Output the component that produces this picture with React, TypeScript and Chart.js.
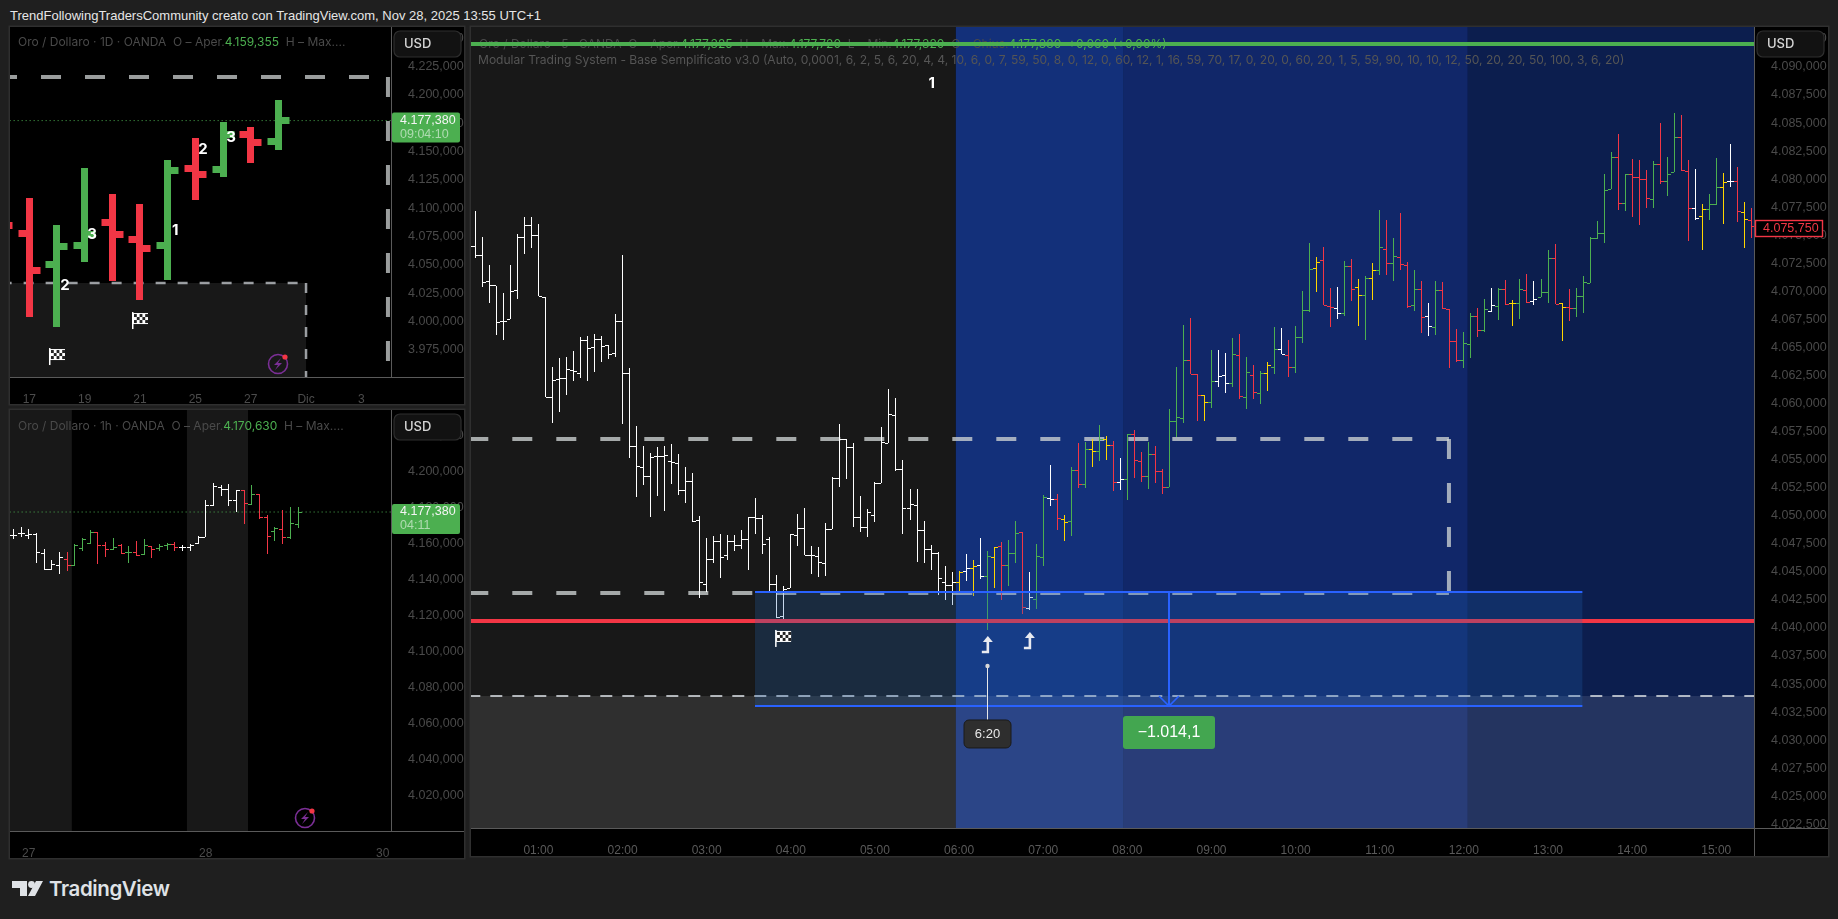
import { useEffect, useRef } from 'react';
import { Chart, registerables } from 'chart.js';
Chart.register(...registerables);

// ---------- 5 minute chart ----------
const mainHighs = [
4074.58,4077.17,4074.82,4072.33,4070.51,4069.83,4072.33,4075.09,4076.60,4076.60,
4075.98,4069.47,4063.23,4064.04,4064.13,4064.66,4065.91,4066.00,4066.18,4066.00,
4065.19,4067.96,4073.22,4063.15,4057.98,4056.19,4055.57,4056.10,4056.19,4056.37,
4055.48,4054.32,4053.79,4049.95,4047.99,4048.17,4048.35,4048.26,4048.26,4048.71,
4049.86,4051.56,4050.04,4048.08,4044.70,4043.72,4048.35,4050.13,4050.67,4047.28,
4047.19,4049.33,4053.43,4058.15,4056.82,4056.46,4051.74,4050.58,4052.98,4057.89,
4061.27,4060.47,4054.95,4052.36,4052.36,4049.51,4047.37,4046.75,4045.50,4044.96,
4045.05,4046.59,4046.03,4047.99,4046.83,4047.19,4047.64,4047.82,4049.51,4048.53,
4044.96,4047.46,4051.83,4054.50,4051.92,4050.04,4054.32,4056.46,4056.58,4056.82,
4058.07,4057.09,4056.64,4055.12,4057.26,4057.62,4055.66,4056.55,4056.19,4054.14,
4059.49,4063.23,4067.00,4067.63,4062.61,4060.74,4064.75,4064.75,4064.48,4065.82,
4066.20,4064.15,4063.41,4062.88,4063.71,4066.80,4066.71,4065.64,4066.89,4070.01,
4074.29,4073.04,4073.93,4070.28,4070.37,4072.68,4072.86,4071.08,4071.35,4072.50,
4077.23,4076.34,4074.73,4076.96,4072.59,4071.88,4070.90,4068.94,4070.90,4070.81,
4068.40,4066.62,4066.36,4068.05,4068.49,4069.30,4070.28,4070.28,4070.99,4069.21,
4071.08,4071.52,4070.90,4071.08,4073.66,4074.20,4068.94,4070.19,4070.28,4071.35,
4074.82,4076.25,4080.44,4082.40,4084.00,4080.44,4081.77,4081.68,4080.79,4081.60,
4084.98,4081.95,4085.87,4085.70,4081.68,4080.88,4077.76,4078.65,4081.86,4080.53,
4083.11,4081.06,4077.94,4077.41];
const mainLows = [
4072.62,4073.00,4070.42,4068.99,4066.09,4065.64,4067.51,4069.35,4073.36,4073.89,
4069.56,4060.56,4058.24,4059.22,4060.79,4062.04,4062.25,4061.99,4062.84,4063.73,
4063.95,4064.13,4058.15,4055.12,4051.65,4052.72,4049.86,4051.74,4050.46,4052.81,
4051.83,4051.11,4049.42,4042.64,4043.23,4045.77,4044.43,4046.03,4046.83,4047.01,
4045.14,4048.35,4046.57,4043.23,4040.86,4040.65,4043.54,4047.28,4046.48,4044.79,
4044.57,4044.61,4048.80,4052.54,4053.31,4048.97,4048.53,4048.08,4049.42,4052.90,
4056.46,4053.96,4048.35,4049.60,4045.85,4045.77,4045.14,4042.91,4042.52,4042.05,
4043.23,4044.21,4042.88,4044.37,4039.85,4043.56,4042.52,4043.72,4045.79,4041.28,
4041.63,4041.72,4045.52,4050.90,4048.73,4047.78,4048.23,4052.45,4052.50,4054.38,
4054.91,4055.00,4052.24,4052.33,4051.44,4053.40,4053.04,4052.42,4052.95,4051.97,
4052.54,4057.00,4058.24,4062.61,4058.45,4058.45,4059.61,4061.48,4060.94,4061.48,
4060.41,4059.52,4060.41,4059.96,4061.12,4062.66,4064.39,4062.40,4062.75,4065.37,
4068.19,4069.97,4068.76,4066.85,4067.57,4067.83,4069.17,4066.94,4065.69,4069.26,
4071.49,4071.49,4070.95,4071.93,4068.49,4068.28,4066.27,4066.00,4066.09,4068.46,
4063.20,4063.73,4063.20,4064.09,4065.96,4066.41,4068.14,4067.48,4068.76,4066.94,
4067.57,4068.94,4068.79,4069.47,4068.94,4068.85,4065.55,4067.39,4067.74,4068.05,
4070.72,4074.64,4074.29,4079.10,4077.23,4077.14,4076.60,4075.89,4077.41,4077.41,
4079.55,4078.48,4080.61,4080.70,4074.46,4076.34,4073.66,4076.34,4077.67,4075.98,
4079.28,4076.16,4073.84,4074.73];
const mainOpens = [
4073.24,4073.98,4073.18,4070.86,4070.51,4067.30,4067.51,4070.10,4074.82,4075.89,
4075.00,4069.47,4060.56,4062.17,4062.25,4062.97,4062.70,4065.64,4065.02,4065.73,
4065.19,4064.48,4067.33,4062.70,4056.19,4054.32,4053.52,4055.30,4055.30,4054.86,
4054.68,4052.27,4053.07,4049.60,4043.89,4046.12,4047.72,4046.48,4047.72,4047.37,
4047.90,4049.86,4049.78,4047.90,4043.89,4041.04,4043.54,4048.26,4048.88,4046.48,
4046.39,4045.76,4048.80,4053.34,4056.82,4056.10,4049.86,4048.97,4050.04,4052.90,
4056.46,4058.96,4054.14,4050.67,4050.93,4048.71,4047.01,4046.66,4044.07,4043.80,
4044.07,4045.05,4045.32,4045.59,4044.61,4046.30,4047.28,4045.59,4046.66,4048.53,
4041.75,4042.56,4046.30,4051.56,4051.47,4049.69,4049.51,4054.05,4052.81,4055.93,
4055.75,4056.82,4056.28,4052.98,4053.25,4057.26,4054.86,4053.52,4055.48,4053.96,
4052.54,4058.42,4058.69,4063.86,4062.61,4060.74,4060.11,4061.99,4062.52,4061.81,
4064.30,4060.56,4062.52,4060.92,4062.70,4063.23,4064.84,4064.30,4063.23,4065.91,
4068.32,4072.06,4072.77,4068.67,4068.49,4068.05,4072.24,4070.37,4069.65,4071.17,
4071.88,4073.75,4072.50,4073.04,4072.33,4068.76,4070.19,4067.78,4066.80,4070.10,
4068.40,4065.55,4063.86,4065.28,4067.78,4066.53,4068.25,4068.67,4070.19,4068.94,
4068.94,4070.10,4069.12,4069.47,4069.92,4072.95,4068.94,4068.58,4068.49,4069.56,
4070.72,4074.73,4075.18,4079.10,4081.95,4077.85,4080.44,4080.17,4079.99,4078.21,
4081.33,4079.81,4080.61,4083.73,4080.70,4077.41,4076.69,4077.32,4077.76,4079.28,
4079.81,4079.81,4077.05,4076.33];
const mainCloses = [
4073.98,4073.18,4070.81,4070.51,4067.21,4067.33,4070.01,4074.82,4075.89,4075.00,
4069.56,4060.56,4062.08,4062.25,4063.06,4062.88,4065.64,4064.95,4065.73,4065.11,
4064.39,4067.33,4062.70,4056.19,4054.41,4053.52,4055.21,4055.30,4055.39,4054.77,
4052.27,4053.07,4049.51,4044.07,4046.12,4047.72,4046.30,4047.72,4047.37,4047.90,
4049.86,4049.78,4047.46,4043.89,4040.95,4043.45,4048.35,4048.88,4046.48,4046.48,
4045.85,4048.80,4053.34,4056.82,4056.10,4049.86,4048.97,4050.31,4052.90,4056.55,
4059.05,4054.14,4050.67,4051.02,4048.71,4047.01,4046.66,4044.43,4043.80,4044.07,
4044.96,4045.32,4045.50,4044.61,4046.39,4047.19,4045.59,4046.66,4048.44,4041.84,
4042.73,4046.39,4051.65,4051.47,4049.78,4049.42,4054.05,4052.81,4055.93,4055.75,
4056.82,4056.28,4052.98,4053.25,4057.26,4054.95,4053.52,4055.48,4053.96,4052.54,
4058.42,4058.78,4063.86,4062.61,4060.74,4060.11,4061.99,4062.43,4061.81,4064.39,
4060.65,4062.79,4061.01,4062.70,4063.41,4064.84,4064.39,4063.23,4065.91,4068.32,
4071.97,4072.59,4068.76,4068.58,4068.05,4072.24,4070.19,4069.65,4071.17,4071.88,
4073.93,4072.50,4073.13,4072.41,4068.67,4070.19,4067.69,4066.89,4070.10,4068.49,
4065.55,4063.86,4065.37,4067.78,4066.53,4068.40,4068.76,4070.19,4068.85,4068.94,
4070.19,4069.03,4069.30,4069.92,4072.95,4068.85,4068.58,4068.49,4069.56,4070.81,
4074.73,4075.18,4079.01,4081.95,4077.85,4080.44,4080.17,4079.99,4078.30,4081.33,
4079.81,4080.44,4083.73,4080.79,4077.41,4076.51,4077.32,4077.76,4079.28,4079.72,
4079.81,4077.14,4076.43,4075.75];
const mainColorCodes =
  'wwwwwwwwwwwwwwwwwwwwwwwwwwwwwwwwwwwwwwwwwwwwwwwwwwwwwwwwwwwwwwwwwwwwww' +
  'ywywgyrggrwggwrygrgygyrwgrrgrrgggrrygwwgrgrgygwrgggyrrwgrygygrgrrgrwgr' +
  'rrggrgwgrygrwggryrggggggrgrrrgrggrrwyggywryr';
const mainPriceTicks = [4022.5,4025,4027.5,4030,4032.5,4035,4037.5,4040,4042.5,4045,4047.5,4050,4052.5,4055,4057.5,4060,4062.5,4065,4067.5,4070,4072.5,4075,4077.5,4080,4082.5,4085,4087.5,4090,4092.5];
const mainTimeIdx = [10,22,34,46,58,70,82,94,106,118,130,142,154,166,178];
const mainTimeLabels = ['01:00','02:00','03:00','04:00','05:00','06:00','07:00','08:00','09:00','10:00','11:00','12:00','13:00','14:00','15:00'];

// ---------- daily chart ----------
const dayHighs = [4120,4109.0,4085.2,4135.5,4112.5,4103.7,4142.6,4162.0,4176.1,4171.7,4195.6];
const dayLows = [4060,4003.9,3995.1,4052.5,4035.7,4018.9,4036.6,4107.2,4127.6,4139.9,4151.4];
const dayOpens = [4090,4077.8,4050.7,4067.2,4087.5,4072.5,4067.2,4135.2,4134.3,4165.3,4159.355];
const dayCloses = [4084.9,4045.1,4066.3,4076.9,4076.9,4064.5,4133.5,4129.9,4164.7,4158.2,4177.38];
const dayColorCodes = 'rrggrrgrgrg';
const dayPriceTicks = [3975,4000,4025,4050,4075,4100,4125,4150,4175,4200,4225,4250];
const dayTimeIdx = [1,3,5,7,9,11,13];
const dayTimeLabels = ['17','19','21','25','27','Dic','3'];

// ---------- hourly chart ----------
const hourHighs = [4167.78,4167.78,4169.07,4167.78,4165.56,4156.67,4150.56,4155.19,4155.19,4159.44,4162.96,4167.22,4166.11,4160.74,4162.96,4159.63,4158.70,4161.30,4162.41,4158.70,4159.44,4160.37,4160.74,4158.89,4159.63,4164.07,4184.07,4193.33,4192.59,4192.96,4189.63,4189.44,4192.41,4187.59,4175.56,4169.07,4178.70,4180.19,4180.19];
const hourLows = [4162.41,4162.59,4163.33,4162.22,4149.26,4145.19,4145.00,4143.15,4144.81,4147.59,4155.93,4159.81,4148.70,4152.59,4156.30,4154.26,4149.26,4152.96,4153.70,4152.04,4155.56,4156.48,4155.74,4155.93,4155.93,4159.81,4163.33,4180.93,4186.48,4180.74,4177.22,4170.74,4181.30,4173.33,4154.26,4161.30,4159.63,4162.59,4168.52];
const hourOpens = [4163.33,4164.07,4165.18,4164.44,4165.00,4154.26,4145.37,4147.78,4151.11,4147.78,4157.22,4160.00,4165.93,4158.89,4156.67,4158.89,4154.63,4154.81,4153.89,4158.33,4156.85,4158.52,4159.44,4157.41,4157.78,4160.00,4163.33,4181.11,4191.11,4190.00,4183.52,4189.26,4181.67,4187.22,4174.44,4166.48,4167.78,4163.33,4170.63];
const hourCloses = [4164.26,4164.07,4165.18,4164.81,4154.63,4145.56,4147.96,4151.85,4147.59,4158.70,4161.85,4165.93,4158.89,4156.67,4157.41,4154.44,4155.00,4153.33,4158.52,4156.48,4157.96,4159.44,4157.78,4157.41,4158.89,4163.33,4181.11,4191.30,4190.00,4183.52,4189.26,4182.22,4187.22,4174.26,4163.89,4168.33,4163.33,4170.93,4177.38];
const hourColorCodes = 'wwwwwwwwrgggrrgrgrgrggrwwwwwwwwrgrrgrgg';
const hourPriceTicks = [4020,4040,4060,4080,4100,4120,4140,4160,4180,4200,4220];
const hourTimeIdx = [3,26,49];
const hourTimeLabels = ['27','28','30'];

// ---------- levels ----------
const lastPrice = 4177.38;
const mainLast = 4075.75;
const upperLevel = 4056.84;
const lowerLevel = 4043.12;
const stopLevel = 4040.62;
const topLevel = 4092.05;
const supportLevel = 4033.94;
const boxTop = 4043.21;
const boxBottom = 4033.05;
const dayUpperLevel = 4216;

const GREEN = '#4caf50', RED = '#f23645', YELLOW = '#ffd600', WHITE = '#ffffff';
const colorOf: Record<string, string> = { w: WHITE, g: GREEN, r: RED, y: YELLOW };
const GREYTXT = '#4a4a4a';
const FONT = 'Inter, "Liberation Sans", sans-serif';
const AXISFONT = '"Liberation Sans", Arial, sans-serif';

const fmtPrice = (v: number) => {
  const [i, d] = v.toFixed(3).split('.');
  return i[0] + '.' + i.slice(1) + ',' + d;
};

function line(points: { x: number; y: number }[], color: string, width: number, dash: number[], order: number) {
  return {
    type: 'line', data: points, borderColor: color, borderWidth: width, borderDash: dash,
    pointRadius: 0, tension: 0, fill: false, order, borderCapStyle: 'butt',
  };
}
function bars(h: number[], l: number[], codes: string, order: number) {
  return {
    type: 'bar', order, grouped: false, barThickness: 1,
    data: h.map((v, i) => ({ x: i, y: [l[i], v] })),
    backgroundColor: h.map((_, i) => colorOf[codes[i]]),
  };
}

function text(ctx: any, s: string, x: number, y: number, font: string, color: string, align = 'left') {
  ctx.font = font; ctx.fillStyle = color; ctx.textAlign = align; ctx.textBaseline = 'middle';
  ctx.fillText(s, x, y);
}
function segs(ctx: any, parts: [string, string][], x: number, y: number, font: string) {
  ctx.font = font; ctx.textBaseline = 'middle'; ctx.textAlign = 'left';
  let cx = x;
  for (const [s, c] of parts) { ctx.fillStyle = c; ctx.fillText(s, cx, y); cx += ctx.measureText(s).width; }
}
function flag(ctx: any, cx: number, cy: number) {
  const x0 = cx - 7, y0 = cy - 8;
  ctx.fillStyle = '#fff';
  ctx.fillRect(x0 - 1, y0, 1.5, 17);
  ctx.fillRect(x0, y0 + 1, 15, 11);
  ctx.fillStyle = '#222';
  for (let r = 0; r < 3; r++) for (let c = 0; c < 5; c++) if ((r + c) % 2 === 0) ctx.fillRect(x0 + 1 + c * 2.8, y0 + 2 + r * 3, 2.8, 3);
}
function bolt(ctx: any, cx: number, cy: number) {
  ctx.beginPath(); ctx.arc(cx, cy, 9.5, 0, Math.PI * 2); ctx.strokeStyle = '#7b2f96'; ctx.lineWidth = 1.6; ctx.stroke();
  ctx.beginPath();
  ctx.moveTo(cx + 3, cy - 6); ctx.lineTo(cx - 4, cy + 1); ctx.lineTo(cx, cy + 1); ctx.lineTo(cx - 3, cy + 6);
  ctx.lineTo(cx + 4, cy - 1); ctx.lineTo(cx, cy - 1); ctx.closePath();
  ctx.fillStyle = '#7b2f96'; ctx.fill();
  ctx.beginPath(); ctx.arc(cx + 7, cy - 7, 2.6, 0, Math.PI * 2); ctx.fillStyle = RED; ctx.fill();
}
function rrect(ctx: any, x: number, y: number, w: number, h: number, r: number) {
  ctx.beginPath(); ctx.roundRect(x, y, w, h, r);
}
function usd(ctx: any, x: number, y: number) {
  rrect(ctx, x, y, 67, 26, 6); ctx.fillStyle = '#121212'; ctx.fill(); ctx.strokeStyle = '#2e2e2e'; ctx.lineWidth = 1.2; ctx.stroke();
  text(ctx, 'USD', x + 10, y + 13.5, '500 13px ' + FONT, '#d6d6d6');
}
function greenTag(ctx: any, x: number, y: number, a: string, b: string) {
  rrect(ctx, x, y, 68, 30, 2); ctx.fillStyle = '#4caf50'; ctx.fill();
  text(ctx, a, x + 8, y + 8, '12.5px ' + AXISFONT, '#f4f4f4');
  text(ctx, b, x + 8, y + 22, '12.5px ' + AXISFONT, 'rgba(255,255,255,0.55)');
}
function upArrow(ctx: any, x: number, y: number) {
  ctx.strokeStyle = '#e8eaf0'; ctx.fillStyle = '#e8eaf0'; ctx.lineWidth = 2.6;
  ctx.beginPath(); ctx.moveTo(x, y - 5); ctx.lineTo(x, y + 7); ctx.lineTo(x - 6, y + 7); ctx.stroke();
  ctx.beginPath(); ctx.moveTo(x - 5, y - 3); ctx.lineTo(x, y - 9); ctx.lineTo(x + 5, y - 3); ctx.closePath(); ctx.fill();
}

function makeOptions(cfg: any) {
  return {
    responsive: false, animation: false, events: [],
    layout: { padding: 0 },
    plugins: { legend: { display: false }, tooltip: { enabled: false }, title: { display: false } },
    scales: {
      x: {
        type: 'linear', min: cfg.xMin, max: cfg.xMax, offset: false,
        grid: { display: false }, border: { color: '#5a5a5a', width: 1 },
        afterBuildTicks: (s: any) => { s.ticks = cfg.xTicks.map((v: number) => ({ value: v })); },
        afterFit: (s: any) => { s.height = cfg.stripH; s.paddingLeft = 0; s.paddingRight = 0; s.paddingTop = 0; s.paddingBottom = 0; },
        ticks: {
          autoSkip: false, maxRotation: 0, minRotation: 0, padding: 7, color: cfg.timeColor,
          font: { size: 12, family: AXISFONT },
          callback: (v: number) => { const k = cfg.xTicks.indexOf(v); return k < 0 ? '' : cfg.xLabels[k]; },
        },
      },
      y: {
        type: 'linear', position: 'right', min: cfg.yMin, max: cfg.yMax,
        grid: { display: false }, border: { color: '#5a5a5a', width: 1 },
        afterBuildTicks: (s: any) => { s.ticks = cfg.yTicks.map((v: number) => ({ value: v })); },
        afterFit: (s: any) => { s.width = cfg.axisW; s.paddingLeft = 0; s.paddingRight = 0; s.paddingTop = 0; s.paddingBottom = 0; },
        ticks: {
          autoSkip: false, padding: 9, crossAlign: 'near', color: GREYTXT,
          font: { size: 12.5, family: AXISFONT },
          callback: (v: number) => fmtPrice(v),
        },
      },
    },
  };
}

function panelPlugin(cfg: any) {
  const withClip = (chart: any, fn: (ctx: any) => void) => {
    const { ctx, chartArea: a } = chart;
    ctx.save(); ctx.beginPath(); ctx.rect(a.left, a.top, a.right - a.left, a.bottom - a.top); ctx.clip();
    fn(ctx); ctx.restore();
  };
  return {
    id: 'panel',
    beforeDatasetsDraw(chart: any) {
      withClip(chart, (ctx) => cfg.under(ctx, chart, chart.scales.x, chart.scales.y, chart.chartArea));
    },
    beforeDatasetDraw(chart: any, args: any) {
      if (args.meta.type !== 'bar') return;
      const ys = chart.scales.y;
      withClip(chart, (ctx) => {
        const { wick, tick, tickH } = cfg.style;
        args.meta.data.forEach((el: any, i: number) => {
          const xr = Math.round(el.x - wick / 2);
          const top = Math.round(ys.getPixelForValue(cfg.highs[i]));
          const bot = Math.round(ys.getPixelForValue(cfg.lows[i]));
          ctx.fillStyle = colorOf[cfg.codes[i]];
          ctx.fillRect(xr, top, wick, Math.max(1, bot - top));
          const oy = Math.round(ys.getPixelForValue(cfg.opens[i]) - tickH / 2);
          const cy = Math.round(ys.getPixelForValue(cfg.closes[i]) - tickH / 2);
          ctx.fillRect(xr - tick, oy, tick, tickH);
          ctx.fillRect(xr + wick, cy, tick, tickH);
        });
      });
      return false;
    },
    afterDatasetsDraw(chart: any) {
      withClip(chart, (ctx) => cfg.over(ctx, chart, chart.scales.x, chart.scales.y, chart.chartArea));
    },
    afterDraw(chart: any) {
      cfg.overlay(chart.ctx, chart, chart.scales.x, chart.scales.y, chart.chartArea);
    },
  };
}

function Panel({ cfg }: { cfg: any }) {
  const ref = useRef<HTMLCanvasElement | null>(null);
  useEffect(() => {
    const chart = new Chart(ref.current as any, {
      type: 'bar',
      data: { datasets: cfg.datasets },
      options: makeOptions(cfg) as any,
      plugins: [panelPlugin(cfg)],
    } as any);
    return () => chart.destroy();
  }, []);
  return (
    <canvas
      ref={ref}
      width={cfg.w}
      height={cfg.h}
      style={{ position: 'absolute', left: cfg.left, top: cfg.top, width: cfg.w, height: cfg.h, background: '#000', boxShadow: '0 0 0 1.5px #2f2f2f' }}
    />
  );
}

// ---------- panel configs ----------
const mainX0 = 0.385, mainX1 = 183.38;
const mainCfg = {
  left: 471, top: 27, w: 1357, h: 829, axisW: 74, stripH: 28, timeColor: '#5a5a5a',
  xMin: mainX0, xMax: mainX1, yMin: 4022.17, yMax: 4093.565,
  xTicks: mainTimeIdx, xLabels: mainTimeLabels, yTicks: mainPriceTicks,
  highs: mainHighs, lows: mainLows, opens: mainOpens, closes: mainCloses, codes: mainColorCodes,
  style: { wick: 1, tick: 3, tickH: 1 },
  datasets: [
    line([{ x: 0, y: topLevel }, { x: 184, y: topLevel }], GREEN, 4, [], 0),
    line([{ x: 0, y: stopLevel }, { x: 184, y: stopLevel }], RED, 4, [], 0),
    bars(mainHighs, mainLows, mainColorCodes, 1),
    line([{ x: 0, y: upperLevel }, { x: 139.87, y: upperLevel }], 'rgba(205,210,210,0.78)', 4, [20, 24], 2),
    line([{ x: 0, y: lowerLevel }, { x: 139.87, y: lowerLevel }], 'rgba(205,210,210,0.78)', 4, [20, 24], 2),
    line([{ x: 139.87, y: upperLevel }, { x: 139.87, y: lowerLevel }], 'rgba(205,210,210,0.78)', 4, [20, 24], 2),
    line([{ x: 0, y: supportLevel }, { x: 184, y: supportLevel }], 'rgba(215,220,225,0.8)', 2, [12, 10], 2),
  ],
  under(ctx: any, _c: any, xs: any, ys: any, a: any) {
    const sessions: [number, number, string][] = [
      [mainX0, 69.53, '#181818'], [69.53, 93.5, '#13307a'], [93.5, 142.57, '#112769'], [142.57, mainX1, '#0c1e4e'],
    ];
    for (const [from, to, c] of sessions) {
      const l = xs.getPixelForValue(from), r = xs.getPixelForValue(to);
      ctx.fillStyle = c; ctx.fillRect(l, a.top, r - l, a.bottom - a.top);
    }
    const ly = ys.getPixelForValue(supportLevel);
    ctx.fillStyle = 'rgba(255,255,255,0.1)'; ctx.fillRect(a.left, ly, a.right - a.left, a.bottom - ly);
    segs(ctx, [
      ['Oro / Dollaro · 5 · OANDA  O – Aper.', GREYTXT], ['4.177,325', GREEN], ['  H – Max.', GREYTXT], ['4.177,720', GREEN],
      ['  L – Min.', GREYTXT], ['4.177,320', GREEN], ['  C – Chius.', GREYTXT], ['4.177,380', GREEN], ['  +0,060 (+0,00%)', GREEN],
    ], 8, 17, '12.05px ' + FONT);
    segs(ctx, [['Modular Trading System - Base Semplificato v3.0 (Auto, 0,0001, 6, 2, 5, 6, 20, 4, 4, 10, 6, 0, 7, 59, 50, 8, 0, 12, 0, 60, 12, 1, 16, 59, 70, 17, 0, 20, 0, 60, 20, 1, 5, 59, 90, 10, 10, 12, 50, 20, 20, 50, 100, 3, 6, 20)', '#555555']], 7, 33, '12.05px ' + FONT);
  },
  over(ctx: any, _c: any, xs: any, ys: any) {
    const bl = xs.getPixelForValue(40.89), br = xs.getPixelForValue(158.9);
    const bt = Math.round(ys.getPixelForValue(boxTop)), bb = Math.round(ys.getPixelForValue(boxBottom));
    ctx.fillStyle = 'rgba(30,100,180,0.25)'; ctx.fillRect(bl, bt, br - bl, bb - bt);
    ctx.fillStyle = '#2962ff';
    ctx.fillRect(bl, bt - 1, br - bl, 2); ctx.fillRect(bl, bb - 1, br - bl, 2);
    const ax = Math.round(xs.getPixelForValue(99.9));
    ctx.fillRect(ax - 1, bt, 2, bb - bt);
    ctx.strokeStyle = '#2962ff'; ctx.lineWidth = 1.6;
    ctx.beginPath(); ctx.moveTo(ax - 10, bb - 10); ctx.lineTo(ax, bb); ctx.lineTo(ax + 10, bb - 10); ctx.stroke();

    flag(ctx, xs.getPixelForValue(44.9), ys.getPixelForValue(4039.11));
    upArrow(ctx, xs.getPixelForValue(74.1), ys.getPixelForValue(4038.48));
    upArrow(ctx, xs.getPixelForValue(80.1), ys.getPixelForValue(4038.84));
    text(ctx, '1', xs.getPixelForValue(66.1), ys.getPixelForValue(4088.5), '700 15px ' + FONT, '#fff', 'center');

    const px = Math.round(xs.getPixelForValue(74));
    const py = ys.getPixelForValue(4036.61), ty = ys.getPixelForValue(4030.55);
    ctx.fillStyle = '#e8e8e8'; ctx.fillRect(px, py, 1, ty - py);
    ctx.beginPath(); ctx.arc(px + 0.5, py, 2.2, 0, Math.PI * 2); ctx.fillStyle = '#d8d8d8'; ctx.fill();
    rrect(ctx, px - 23, ty - 14, 47, 28, 5); ctx.fillStyle = '#2e2e2e'; ctx.fill(); ctx.strokeStyle = '#1a1a1a'; ctx.lineWidth = 1; ctx.stroke();
    text(ctx, '6:20', px + 0.5, ty + 0.5, '13px ' + AXISFONT, '#e8e8e8', 'center');

    const gy = ys.getPixelForValue(4030.68);
    rrect(ctx, ax - 46, gy - 16.5, 92, 33, 3); ctx.fillStyle = '#43a650'; ctx.fill();
    text(ctx, '−1.014,1', ax, gy + 0.5, '16px ' + AXISFONT, '#ffffff', 'center');
  },
  overlay(ctx: any, _c: any, _x: any, _y: any, a: any) {
    ctx.fillStyle = '#000'; ctx.fillRect(a.right + 1, a.bottom, 80, 28);
    ctx.fillStyle = '#5a5a5a'; ctx.fillRect(a.left, a.bottom, a.right - a.left + 80, 1);
    ctx.fillRect(a.right, a.bottom, 1, 28);
    usd(ctx, a.right + 3, 4);
    const rr = 193;
    ctx.fillStyle = '#000'; ctx.fillRect(a.right + 1, rr, 68, 17);
    ctx.strokeStyle = RED; ctx.lineWidth = 1.4; ctx.strokeRect(a.right + 1.5, rr + 0.5, 67, 16);
    text(ctx, fmtPrice(mainLast), a.right + 9, rr + 9, '12.5px ' + AXISFONT, RED);
  },
};

const dayX0 = 0.3025, dayX1 = 14.07;
const dayCfg = {
  left: 10, top: 27, w: 454, h: 377, axisW: 73, stripH: 27, timeColor: '#4c4c4c',
  xMin: dayX0, xMax: dayX1, yMin: 3950.88, yMax: 4260.07,
  xTicks: dayTimeIdx, xLabels: dayTimeLabels, yTicks: dayPriceTicks,
  highs: dayHighs, lows: dayLows, opens: dayOpens, closes: dayCloses, codes: dayColorCodes,
  style: { wick: 7, tick: 7.5, tickH: 7 },
  datasets: [
    bars(dayHighs, dayLows, dayColorCodes, 1),
    line([{ x: -0.167, y: dayUpperLevel }, { x: 13.96, y: dayUpperLevel }], 'rgba(205,210,210,0.75)', 4, [20, 24], 2),
    line([{ x: 13.96, y: dayUpperLevel }, { x: 13.96, y: 3950 }], 'rgba(205,210,210,0.75)', 4, [20, 24], 2),
    line([{ x: 0, y: supportLevel }, { x: 11, y: supportLevel }], 'rgba(215,220,225,0.7)', 2.5, [10, 12], 2),
    line([{ x: 11, y: supportLevel }, { x: 11, y: 3950 }], 'rgba(215,220,225,0.7)', 2.5, [10, 12], 2),
    line([{ x: 0, y: lastPrice }, { x: 15, y: lastPrice }], GREEN, 1, [1, 3], 3),
  ],
  under(ctx: any, _c: any, xs: any, ys: any, a: any) {
    const r = xs.getPixelForValue(11), t = ys.getPixelForValue(supportLevel);
    ctx.fillStyle = '#181818'; ctx.fillRect(a.left, t, r - a.left, a.bottom - t);
    segs(ctx, [['Oro / Dollaro · 1D · OANDA  O – Aper.', GREYTXT], ['4.159,355', GREEN], ['  H – Max....', GREYTXT]], 8, 15, '12px ' + FONT);
  },
  over(ctx: any, _c: any, xs: any, ys: any) {
    const f = '700 15px ' + FONT;
    const nums: [string, number, number][] = [['2', 2.29, 4031.3], ['3', 3.27, 4077.2], ['1', 6.27, 4080.7], ['2', 7.28, 4152.3], ['3', 8.29, 4162.9]];
    for (const [s, i, p] of nums) text(ctx, s, xs.getPixelForValue(i), ys.getPixelForValue(p), f, '#fff', 'center');
    flag(ctx, xs.getPixelForValue(2), ys.getPixelForValue(3969.4));
    flag(ctx, xs.getPixelForValue(5), ys.getPixelForValue(4001.2));
    bolt(ctx, 268, 337);
  },
  overlay(ctx: any, _c: any, _x: any, ys: any, a: any) {
    ctx.fillStyle = '#5a5a5a'; ctx.fillRect(a.left, a.bottom, 454, 1);
    usd(ctx, a.right + 3, 4);
    const ly = ys.getPixelForValue(lastPrice);
    greenTag(ctx, a.right + 1, ly - 8, fmtPrice(lastPrice), '09:04:10');
  },
};

const hourX0 = 0.567, hourX1 = 50.08;
const hourCfg = {
  left: 10, top: 410, w: 454, h: 448, axisW: 73, stripH: 27, timeColor: '#4c4c4c',
  xMin: hourX0, xMax: hourX1, yMin: 4000.17, yMax: 4234.05,
  xTicks: hourTimeIdx, xLabels: hourTimeLabels, yTicks: hourPriceTicks,
  highs: hourHighs, lows: hourLows, opens: hourOpens, closes: hourCloses, codes: hourColorCodes,
  style: { wick: 1, tick: 3, tickH: 1 },
  datasets: [
    bars(hourHighs, hourLows, hourColorCodes, 1),
    line([{ x: 0, y: lastPrice }, { x: 51, y: lastPrice }], GREEN, 1, [1, 3], 2),
  ],
  under(ctx: any, _c: any, xs: any, _y: any, a: any) {
    const shaded: [number, number][] = [[hourX0, 8.6], [23.56, 31.5]];
    ctx.fillStyle = '#181818';
    for (const [f, t] of shaded) {
      const l = xs.getPixelForValue(f), r = xs.getPixelForValue(t);
      ctx.fillRect(l, a.top, r - l, a.bottom - a.top);
    }
    segs(ctx, [['Oro / Dollaro · 1h · OANDA  O – Aper.', GREYTXT], ['4.170,630', GREEN], ['  H – Max....', GREYTXT]], 8, 16, '12px ' + FONT);
  },
  over(ctx: any) { bolt(ctx, 295, 408); },
  overlay(ctx: any, _c: any, _x: any, ys: any, a: any) {
    ctx.fillStyle = '#5a5a5a'; ctx.fillRect(a.left, a.bottom, 454, 1);
    usd(ctx, a.right + 3, 4);
    const ly = ys.getPixelForValue(lastPrice);
    greenTag(ctx, a.right + 1, ly - 8, fmtPrice(lastPrice), '04:11');
  },
};

export default function App() {
  return (
    <div style={{ position: 'fixed', inset: 0, background: '#1f1f1f', overflow: 'hidden' }}>
      <div style={{ position: 'absolute', left: 10, top: 8, color: '#e6e6e6', font: '13px ' + AXISFONT, whiteSpace: 'nowrap' }}>
        TrendFollowingTradersCommunity creato con TradingView.com, Nov 28, 2025 13:55 UTC+1
      </div>
      <Panel cfg={dayCfg} />
      <Panel cfg={hourCfg} />
      <Panel cfg={mainCfg} />
      <svg style={{ position: 'absolute', left: 12, top: 880 }} width="32" height="18" viewBox="0 0 32 18">
        <path d="M0 1 H15 V16 H8 V8 H0 Z M24 1 H31 L23 16 H16 Z" fill="#dfe2e6" />
        <circle cx="19.5" cy="4.5" r="3.4" fill="#dfe2e6" />
      </svg>
      <div style={{ position: 'absolute', left: 49, top: 876, color: '#dfe2e6', font: '600 20.5px ' + FONT, letterSpacing: '-0.4px', whiteSpace: 'nowrap' }}>
        TradingView
      </div>
    </div>
  );
}
